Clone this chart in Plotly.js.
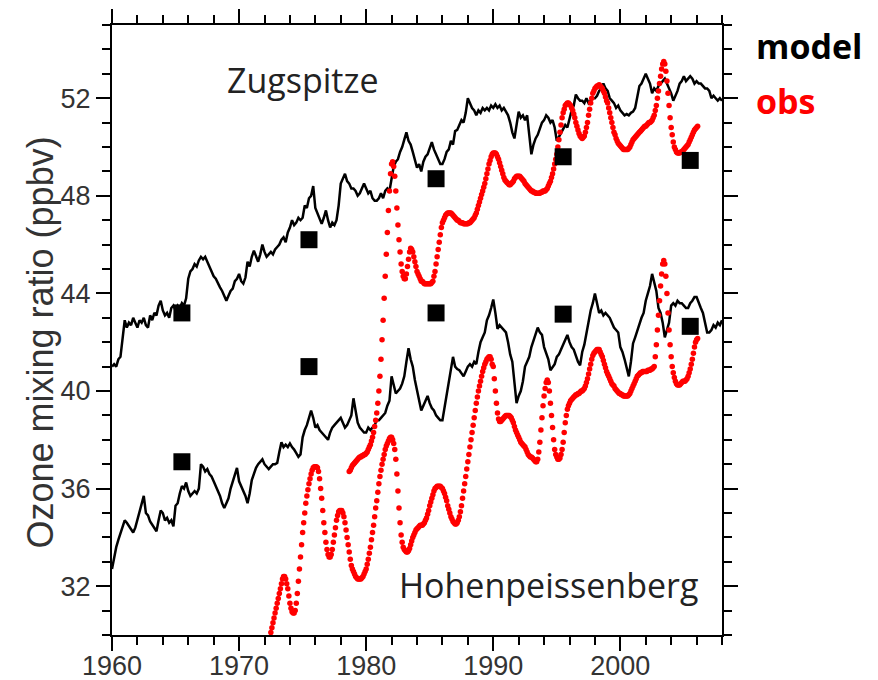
<!DOCTYPE html>
<html>
<head>
<meta charset="utf-8">
<script src="https://cdn.plot.ly/plotly-3.0.1.min.js"></script>
<style>html,body{margin:0;padding:0;background:#fff}</style>
</head>
<body>
<div id="chart" style="width:878px;height:680px"></div>
<script>
// Ozone mixing ratio at two Bavarian mountain stations: model runs (bi-monthly),
// observed record (monthly) and decadal survey values.

// Model, six values per year from 1960.0
const modelStart = 1960;
const modelStep = 1 / 6;
const zugModel = [
  41.0, 41.1, 41.0, 41.3, 41.4, 42.2,   42.9, 42.6, 42.8, 42.7, 43.0, 42.8,
  42.6, 42.9, 42.8, 43.0, 42.7, 42.6,   43.1, 42.9, 43.2, 43.1, 43.5, 43.7,
  43.3, 43.1, 43.2, 43.0, 43.4, 43.5,   43.3, 43.5, 43.4, 43.6, 43.5, 43.8,
  44.6, 44.9, 45.0, 45.2, 45.1, 45.35,  45.5, 45.4, 45.5, 45.3, 45.1, 44.85,
  44.7, 44.6, 44.4, 44.25, 44.1, 43.9,  43.7, 43.9, 44.1, 44.2, 44.5, 44.6,
  44.8, 44.5, 44.4, 44.65, 45.3, 45.1,  45.5, 45.75, 45.5, 45.3, 45.6, 46.0,
  45.7, 45.5, 45.6, 45.7, 45.6, 45.8,   45.9, 46.0, 46.2, 46.3, 46.1, 46.5,
  46.7, 47.0, 46.8, 46.9, 47.1, 47.0,   47.1, 47.6, 47.5, 47.9, 48.0, 48.4,
  47.5, 47.3, 47.1, 46.85, 47.1, 47.4,  47.0, 46.7, 46.9, 46.8, 47.0, 47.6,
  48.5, 48.7, 48.9, 48.6, 48.5, 48.3,   48.3, 48.2, 48.0, 48.1, 48.3, 48.5,
  48.3, 48.1, 48.2, 47.9, 47.8, 47.8,   47.9, 48.1, 47.9, 48.2, 48.3, 48.2,
  48.7, 49.2, 49.4, 49.5, 49.8, 50.0,   50.3, 50.6, 50.25, 50.1, 49.8, 49.5,
  49.15, 49.3, 49.0, 49.4, 49.6, 49.7,  50.0, 50.2, 49.9, 49.7, 49.5, 49.3,
  49.3, 49.5, 49.8, 49.9, 50.25, 50.1,  50.65, 50.7, 50.9, 51.1, 51.0, 51.4,
  52.0, 51.8, 51.6, 51.5, 51.3, 51.5,   51.4, 51.6, 51.5, 51.6, 51.5, 51.7,
  51.6, 51.75, 51.6, 51.7, 51.5, 51.6,  51.45, 51.3, 51.0, 50.6, 50.35, 51.0,
  51.45, 51.2, 51.3, 51.1, 51.3, 50.5,  49.7, 50.1, 50.35, 50.5, 50.8, 51.0,
  51.1, 51.3, 51.2, 51.0, 51.1, 50.8,   50.25, 50.4, 50.6, 50.7, 50.9, 50.8,
  51.2, 51.5, 51.7, 52.15, 52.0, 51.9,  51.9, 51.8, 52.0, 51.8, 51.9, 52.0,
  52.0, 52.1, 52.3, 52.4, 52.6, 52.4,   52.3, 52.0, 51.9, 51.8, 51.6, 51.7,
  51.5, 51.4, 51.3, 51.35, 51.3, 51.4,  51.45, 51.6, 52.0, 52.5, 52.6, 52.8,
  53.0, 52.8, 52.6, 52.2, 52.4, 52.3,   52.5, 52.6, 52.7, 52.8, 52.6, 52.4,
  52.2, 51.9, 52.1, 52.3, 52.6, 52.7,   52.9, 52.7, 52.8, 52.9, 52.8, 52.6,
  52.7, 52.6, 52.6, 52.5, 52.4, 52.4,   52.3, 52.0, 52.1, 52.0, 51.9, 52.0,
  51.9
];
const hohModel = [
  32.7, 33.2, 33.6, 33.9, 34.2, 34.4,   34.7, 34.6, 34.45, 34.3, 34.2, 34.4,
  34.7, 35.1, 35.3, 35.7, 35.0, 34.9,   34.65, 34.5, 34.4, 34.25, 34.7, 35.1,
  35.0, 34.7, 34.8, 34.6, 34.7, 34.45,  35.3, 35.4, 35.8, 36.1, 36.0, 36.25,
  35.9, 35.7, 35.8, 35.9, 35.8, 36.0,   37.0, 36.9, 36.7, 36.8, 36.6, 36.5,
  36.3, 36.1, 35.9, 35.7, 35.4, 35.2,   35.4, 35.6, 36.0, 36.3, 36.6, 36.85,
  36.3, 36.1, 35.9, 35.7, 35.4, 35.8,   36.35, 36.6, 36.85, 37.0, 37.1, 37.2,
  37.0, 36.9, 36.8, 36.9, 37.0, 37.0,   37.05, 37.5, 37.9, 37.7, 37.8, 37.7,
  37.85, 37.7, 37.6, 37.45, 37.3, 37.4, 38.1, 38.4, 38.6, 38.9, 39.2, 38.9,
  38.5, 38.6, 38.4, 38.3, 38.2, 38.1,   38.0, 38.3, 38.5, 38.6, 38.7, 38.8,
  38.9, 38.7, 38.5, 38.6, 38.8, 39.0,   39.7, 39.2, 38.7, 38.5, 38.4, 38.3,
  38.3, 38.5, 38.4, 38.5, 38.6, 38.8,   38.8, 38.9, 39.0, 39.1, 39.4, 39.6,
  40.6, 40.2, 39.9, 40.0, 40.1, 40.3,   40.6, 41.2, 41.75, 41.3, 41.0, 40.45,
  40.0, 39.6, 39.2, 39.4, 39.6, 39.8,   39.5, 39.3, 39.2, 39.0, 38.9, 38.8,
  38.8, 39.3, 39.8, 40.4, 40.9, 41.4,   41.0, 40.9, 40.85, 40.7, 40.6, 40.8,
  41.0, 41.1, 41.0, 41.2, 41.1, 41.6,   42.0, 42.2, 42.4, 42.9, 43.1, 43.4,
  43.75, 43.2, 42.55, 42.7, 42.6, 42.5, 42.4, 42.0, 41.5, 41.2, 40.3, 39.5,
  39.8, 40.0, 40.4, 41.0, 41.2, 41.4,   41.8, 42.1, 42.4, 42.6, 42.4, 42.3,
  41.8, 41.5, 41.3, 40.85, 41.0, 41.1,  41.4, 41.5, 41.7, 41.9, 42.1, 42.3,
  42.0, 41.8, 41.7, 41.4, 41.2, 41.05,  41.6, 41.9, 42.4, 42.8, 43.3, 43.6,
  44.0, 43.6, 43.2, 43.3, 43.1, 43.2,   43.1, 43.0, 42.8, 42.6, 42.5, 42.4,
  41.8, 41.6, 41.3, 41.0, 40.6, 41.2,   41.95, 42.2, 42.5, 42.8, 43.0, 43.2,
  43.7, 44.0, 44.3, 44.8, 44.4, 44.1,   43.4, 43.2, 42.8, 42.2, 42.5, 42.8,
  43.5, 43.6, 43.5, 43.7, 43.6, 43.6,   43.5, 43.4, 43.4, 43.6, 43.7, 43.85,
  43.85, 43.6, 43.4, 43.2, 42.8, 42.4,  42.4, 42.5, 42.7, 42.6, 42.8, 42.7,
  42.9
];

// Observations, monthly values
const zugObsStart = 1978 + 8 / 12;   // September 1978
const zugObs = [
  36.7, 36.75, 36.85, 36.95,
  37.0, 37.05, 37.1, 37.15, 37.2, 37.25, 37.3, 37.3, 37.35, 37.35, 37.4, 37.4,
  37.45, 37.5, 37.6, 37.7, 37.8, 37.95, 38.1, 38.3, 38.55, 38.8, 39.1, 39.5,
  40.0, 40.6, 41.3, 42.1, 42.9, 43.8, 44.7, 45.6, 46.5, 47.4, 48.2, 48.9,
  49.3, 49.4, 49.2, 48.8, 48.2, 47.5, 46.8, 46.2, 45.7, 45.2, 44.9, 44.7,
  44.6, 44.6, 44.8, 45.1, 45.4, 45.7, 45.85, 45.8, 45.7, 45.5, 45.3, 45.1,
  44.9, 44.8, 44.7, 44.6, 44.5, 44.5, 44.45, 44.4, 44.4, 44.4, 44.4, 44.4,
  44.4, 44.4, 44.45, 44.5, 44.7, 44.9, 45.2, 45.5, 45.8, 46.1, 46.4, 46.7,
  46.9, 47.0, 47.1, 47.2, 47.25, 47.3, 47.3, 47.3, 47.3, 47.25, 47.2, 47.15,
  47.1, 47.05, 47.0, 47.0, 46.95, 46.9, 46.9, 46.9, 46.85, 46.85, 46.85, 46.85,
  46.85, 46.9, 46.9, 46.95, 47.0, 47.05, 47.1, 47.2, 47.3, 47.45, 47.6, 47.75,
  47.9, 48.05, 48.2, 48.35, 48.5, 48.7, 48.9, 49.1, 49.3, 49.45, 49.6, 49.7,
  49.75, 49.75, 49.75, 49.7, 49.6, 49.5, 49.35, 49.2, 49.05, 48.9, 48.75, 48.65,
  48.6, 48.55, 48.5, 48.45, 48.45, 48.5, 48.55, 48.6, 48.7, 48.75, 48.8, 48.8,
  48.8, 48.8, 48.75, 48.7, 48.65, 48.6, 48.5, 48.45, 48.4, 48.35, 48.3, 48.25,
  48.2, 48.2, 48.15, 48.15, 48.1, 48.1, 48.1, 48.1, 48.1, 48.15, 48.15, 48.2,
  48.2, 48.2, 48.25, 48.3, 48.4, 48.5, 48.6, 48.75, 48.9, 49.1, 49.3, 49.5,
  49.7, 50.0, 50.3, 50.6, 50.9, 51.2, 51.4, 51.55, 51.7, 51.75, 51.8, 51.8,
  51.75, 51.7, 51.6, 51.5, 51.35, 51.2, 51.0, 50.85, 50.7, 50.55, 50.45, 50.4,
  50.35, 50.4, 50.45, 50.6, 50.8, 51.0, 51.3, 51.55, 51.8, 52.0, 52.2, 52.3,
  52.4, 52.45, 52.5, 52.5, 52.55, 52.5, 52.45, 52.4, 52.3, 52.2, 52.05, 51.9,
  51.8, 51.6, 51.4, 51.2, 51.0, 50.8, 50.6, 50.5, 50.35, 50.25, 50.15, 50.1,
  50.05, 50.0, 49.95, 49.9, 49.9, 49.9, 49.9, 49.9, 49.95, 50.0, 50.1, 50.2,
  50.3, 50.35, 50.4, 50.45, 50.5, 50.55, 50.6, 50.65, 50.7, 50.75, 50.8, 50.85,
  50.85, 50.9, 50.95, 51.0, 51.0, 51.05, 51.1, 51.2, 51.3, 51.5, 51.7, 52.0,
  52.3, 52.6, 52.9, 53.2, 53.4, 53.5, 53.4, 53.1, 52.7, 52.2, 51.7, 51.2,
  50.8, 50.5, 50.2, 50.0, 49.9, 49.8, 49.75, 49.75, 49.75, 49.8, 49.8, 49.85,
  49.9, 49.95, 50.0, 50.05, 50.1, 50.2, 50.3, 50.4, 50.5, 50.6, 50.7, 50.75,
  50.8, 50.85
];
const hohObsStart = 1972.5;          // July 1972
const hohObs = [
  30.1, 30.3, 30.5, 30.7, 30.9, 31.1,
  31.3, 31.5, 31.7, 31.9, 32.1, 32.3, 32.4, 32.4, 32.3, 32.1, 31.9, 31.6,
  31.3, 31.1, 30.95, 30.9, 30.9, 31.0, 31.3, 31.7, 32.2, 32.7, 33.2, 33.7,
  34.2, 34.6, 35.0, 35.4, 35.7, 35.95, 36.2, 36.4, 36.6, 36.75, 36.85, 36.9,
  36.9, 36.9, 36.85, 36.7, 36.4, 36.0, 35.6, 35.1, 34.6, 34.2, 33.8, 33.5,
  33.3, 33.2, 33.2, 33.3, 33.5, 33.8, 34.1, 34.4, 34.7, 34.9, 35.05, 35.1,
  35.1, 35.1, 35.0, 34.85, 34.6, 34.3, 34.0, 33.7, 33.4, 33.1, 32.85, 32.7,
  32.6, 32.5, 32.4, 32.35, 32.3, 32.3, 32.3, 32.3, 32.35, 32.4, 32.5, 32.6,
  32.7, 32.9, 33.1, 33.35, 33.6, 33.9, 34.2, 34.5, 34.85, 35.2, 35.5, 35.85,
  36.2, 36.5, 36.75, 37.0, 37.2, 37.4, 37.6, 37.75, 37.85, 37.95, 38.05, 38.1,
  38.1, 38.0, 37.85, 37.6, 37.2, 36.6, 35.9, 35.2, 34.6, 34.1, 33.8, 33.6,
  33.5, 33.45, 33.4, 33.4, 33.45, 33.55, 33.7, 33.85, 34.0, 34.1, 34.2, 34.3,
  34.35, 34.4, 34.45, 34.5, 34.5, 34.5, 34.55, 34.6, 34.7, 34.8, 34.95, 35.1,
  35.3, 35.45, 35.6, 35.75, 35.9, 36.0, 36.05, 36.1, 36.1, 36.1, 36.1, 36.05,
  36.0, 35.9, 35.8, 35.65, 35.5, 35.3, 35.15, 35.0, 34.85, 34.75, 34.65, 34.6,
  34.55, 34.55, 34.6, 34.7, 34.85, 35.05, 35.3, 35.6, 35.9, 36.2, 36.5, 36.8,
  37.1, 37.4, 37.7, 38.0, 38.3, 38.6, 38.9, 39.2, 39.5, 39.75, 40.0, 40.2,
  40.4, 40.6, 40.8, 40.95, 41.1, 41.2, 41.3, 41.35, 41.4, 41.4, 41.3, 41.1,
  41.0, 40.5, 40.0, 39.5, 39.1, 38.85, 38.75, 38.75, 38.8, 38.85, 38.9, 38.95,
  39.0, 39.0, 39.0, 39.0, 38.95, 38.9, 38.8, 38.7, 38.55, 38.4, 38.3, 38.2,
  38.1, 38.0, 37.9, 37.85, 37.8, 37.75, 37.7, 37.6, 37.5, 37.4, 37.35, 37.3,
  37.3, 37.25, 37.2, 37.15, 37.1, 37.1, 37.2, 37.5, 37.9, 38.4, 38.9, 39.4,
  39.8, 40.1, 40.35, 40.45, 40.35, 40.0, 39.5, 39.0, 38.5, 38.0, 37.6, 37.4,
  37.3, 37.2, 37.2, 37.25, 37.4, 37.6, 37.9, 38.3, 38.7, 39.0, 39.25, 39.4,
  39.5, 39.6, 39.65, 39.7, 39.75, 39.8, 39.85, 39.85, 39.9, 39.9, 39.95, 40.0,
  40.0, 40.05, 40.1, 40.2, 40.35, 40.5, 40.7, 40.9, 41.1, 41.3, 41.45, 41.55,
  41.6, 41.65, 41.7, 41.7, 41.7, 41.6, 41.5, 41.4, 41.25, 41.1, 40.95, 40.8,
  40.7, 40.6, 40.5, 40.4, 40.3, 40.25, 40.2, 40.1, 40.05, 40.0, 39.95, 39.9,
  39.9, 39.85, 39.85, 39.8, 39.8, 39.8, 39.8, 39.8, 39.85, 39.9, 40.0, 40.1,
  40.2, 40.3, 40.4, 40.5, 40.6, 40.65, 40.7, 40.75, 40.75, 40.8, 40.8, 40.8,
  40.8, 40.8, 40.85, 40.85, 40.85, 40.9, 40.9, 40.95, 41.0, 41.4, 41.9, 42.5,
  43.1, 43.7, 44.3, 44.8, 45.2, 45.35, 45.2, 44.7, 44.0, 43.2, 42.5, 41.9,
  41.4, 41.0, 40.75, 40.55, 40.4, 40.3, 40.25, 40.25, 40.25, 40.3, 40.35, 40.4,
  40.4, 40.4, 40.45, 40.5, 40.6, 40.75, 40.9, 41.1, 41.3, 41.55, 41.8, 42.0,
  42.1, 42.15
];

// Decadal survey values
const surveyYears = [1965.5, 1975.5, 1985.5, 1995.5, 2005.5];
const zugSurvey = [43.2, 46.2, 48.7, 49.6, 49.45];
const hohSurvey = [37.1, 41.0, 43.2, 43.15, 42.65];

const stationLabels = ['Zugspitze', 'Hohenpeissenberg'];
const legendLabels = ['model', 'obs'];
const yTitle = 'Ozone mixing ratio (ppbv)';

function timeAxis(start, step, n) {
  const t = [];
  for (let i = 0; i < n; i++) t.push(start + i * step);
  return t;
}

const modelLine = {color: '#000', width: 2.5};
const obsMarker = {color: '#ff0000', size: 5.5, symbol: 'circle'};
const surveyMarker = {color: '#000', size: 17, symbol: 'square'};

const traces = [
  {x: timeAxis(modelStart, modelStep, zugModel.length), y: zugModel, mode: 'lines', line: modelLine},
  {x: timeAxis(modelStart, modelStep, hohModel.length), y: hohModel, mode: 'lines', line: modelLine},
  {x: timeAxis(zugObsStart, 1 / 12, zugObs.length), y: zugObs, mode: 'markers', marker: obsMarker},
  {x: timeAxis(hohObsStart, 1 / 12, hohObs.length), y: hohObs, mode: 'markers', marker: obsMarker},
  {x: surveyYears, y: zugSurvey, mode: 'markers', marker: surveyMarker},
  {x: surveyYears, y: hohSurvey, mode: 'markers', marker: surveyMarker}
];

const sansFont = 'Liberation Sans, Arial, sans-serif';
const tickFont = {family: sansFont, size: 27, color: '#333'};
const labelFont = {family: 'Open Sans, sans-serif', size: 34, color: '#222'};
const legendFont = {family: 'Open Sans, sans-serif', size: 34, weight: 700};

const axisCommon = {
  showline: true, linecolor: '#000', linewidth: 2, mirror: 'ticks',
  ticks: 'outside', ticklen: 14, tickwidth: 2, tickcolor: '#000',
  showgrid: false, zeroline: false, tickfont: tickFont
};

const layout = {
  width: 878, height: 680,
  margin: {l: 112, r: 156, t: 25, b: 45},
  paper_bgcolor: '#fff', plot_bgcolor: '#fff',
  showlegend: false,
  xaxis: Object.assign({}, axisCommon, {
    range: [1960, 2008], tick0: 1960, dtick: 10, ticklabelstandoff: -8,
    minor: {dtick: 2, ticks: 'outside', ticklen: 8, tickwidth: 2, tickcolor: '#000', showgrid: false}
  }),
  yaxis: Object.assign({}, axisCommon, {
    range: [30, 55], tick0: 0, dtick: 4,
    minor: {dtick: 1, ticks: 'outside', ticklen: 8, tickwidth: 2, tickcolor: '#000', showgrid: false}
  }),
  annotations: [
    {x: -0.118, y: 0.4795, xref: 'paper', yref: 'paper', xanchor: 'center', yanchor: 'middle',
     textangle: -90, text: yTitle, showarrow: false, font: {family: sansFont, size: 36, color: '#333'}},
    {x: 1975.04, y: 52.73, xref: 'x', yref: 'y', text: stationLabels[0], showarrow: false, font: labelFont},
    {x: 1994.37, y: 32.04, xref: 'x', yref: 'y', text: stationLabels[1], showarrow: false, font: labelFont},
    {x: 1.053, y: 0.966, xref: 'paper', yref: 'paper', xanchor: 'left', yanchor: 'middle',
     text: legendLabels[0], showarrow: false, font: Object.assign({color: '#000'}, legendFont)},
    {x: 1.053, y: 0.875, xref: 'paper', yref: 'paper', xanchor: 'left', yanchor: 'middle',
     text: legendLabels[1], showarrow: false, font: Object.assign({color: '#ff0000'}, legendFont)}
  ]
};

Plotly.newPlot('chart', traces, layout, {staticPlot: true, displayModeBar: false});
</script>
</body>
</html>
